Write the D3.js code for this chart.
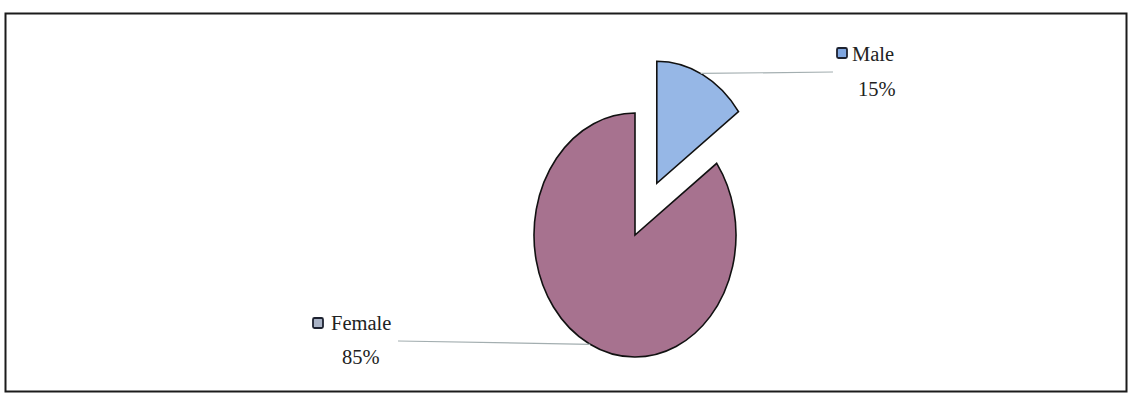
<!DOCTYPE html>
<html>
<head>
<meta charset="utf-8">
<script src="https://cdn.jsdelivr.net/npm/d3@7"></script>
<style>
  html, body { margin: 0; padding: 0; background: #fff; }
  svg { display: block; }
</style>
</head>
<body>
<svg id="chart" width="1130" height="396"></svg>
<script>
// Gender split of respondents
const categories = ["Male", "Female"];
const values = [15, 85];
const sliceColors = ["#96b7e6", "#a7728f"];
const swatchColors = ["#7fa6e0", "#a9b3c6"];

const svg = d3.select("#chart");

// outer frame
svg.append("rect")
  .attr("x", 5.5).attr("y", 13.5)
  .attr("width", 1121).attr("height", 378)
  .attr("fill", "none")
  .attr("stroke", "#1b1b1b")
  .attr("stroke-width", 2);

// pie: drawn as a circle then squeezed horizontally into an ellipse
const cx = 635, cy = 235;
const r = 122;
const sx = 101 / 122;
const explode = 58;

const pie = d3.pie().sort(null).value(d => d.value);
const arcs = pie(categories.map((c, i) => ({ name: c, value: values[i] })));
const arc = d3.arc().innerRadius(0).outerRadius(r);

const g = svg.append("g").attr("transform", `translate(${cx},${cy}) scale(${sx},1)`);

function offset(d) {
  if (d.data.name !== "Male") return [0, 0];
  const a = (d.startAngle + d.endAngle) / 2;
  return [Math.sin(a) * explode, -Math.cos(a) * explode];
}

g.selectAll("path.slice")
  .data(arcs)
  .join("path")
  .attr("class", "slice")
  .attr("d", arc)
  .attr("transform", d => `translate(${offset(d)})`)
  .attr("fill", (d, i) => sliceColors[i])
  .attr("stroke", "#111")
  .attr("stroke-width", 1.6)
  .attr("vector-effect", "non-scaling-stroke");

// point on the rim of a slice at a given angle, in page coordinates
function rimPoint(d, angle) {
  const [ox, oy] = offset(d);
  return [cx + (ox + Math.sin(angle) * r) * sx, cy + oy - Math.cos(angle) * r];
}

// labels: swatch, name, percentage and leader line
const labels = [
  { i: 0, sw: [837, 48], name: [852, 61], pct: [858, 96], line: [833, 72], angle: 0.45 },
  { i: 1, sw: [313, 318], name: [331, 330], pct: [342, 364], line: [398, 341], angle: Math.PI + 0.46 }
];

labels.forEach(l => {
  const d = arcs[l.i];
  const p = rimPoint(d, l.angle);
  svg.append("line")
    .attr("x1", Math.min(p[0], l.line[0])).attr("y1", p[0] < l.line[0] ? p[1] : l.line[1])
    .attr("x2", Math.max(p[0], l.line[0])).attr("y2", p[0] < l.line[0] ? l.line[1] : p[1])
    .attr("stroke", "#a3aeb0")
    .attr("stroke-width", 1.2);

  svg.append("rect")
    .attr("x", l.sw[0]).attr("y", l.sw[1])
    .attr("width", 10).attr("height", 10)
    .attr("rx", 1.5)
    .attr("fill", swatchColors[l.i])
    .attr("stroke", "#1d2230")
    .attr("stroke-width", 1.8);

  svg.append("text")
    .attr("x", l.name[0]).attr("y", l.name[1])
    .style("font-family", "'Liberation Serif'")
    .style("font-size", "20.5px")
    .attr("fill", "#222")
    .text(d.data.name);

  svg.append("text")
    .attr("x", l.pct[0]).attr("y", l.pct[1])
    .style("font-family", "'Liberation Serif'")
    .style("font-size", "20.5px")
    .attr("fill", "#222")
    .text(d.data.value + "%");
});
</script>
</body>
</html>
